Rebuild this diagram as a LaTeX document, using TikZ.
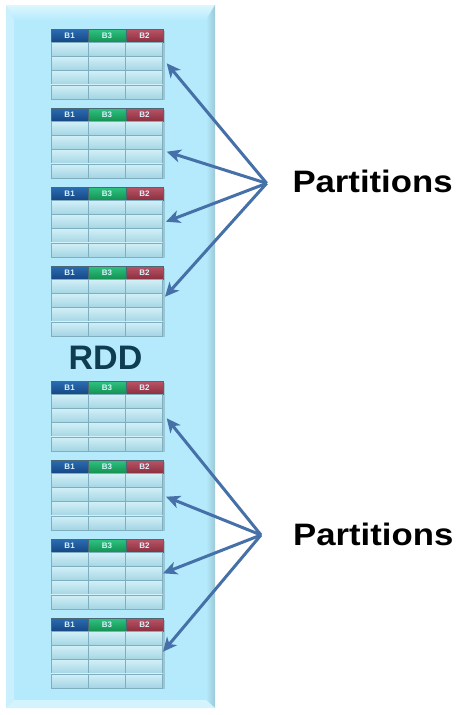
\documentclass[tikz,border=0pt]{standalone}
\usepackage{fontspec}
\setmainfont{Liberation Sans}
\usetikzlibrary{positioning,arrows.meta}

\definecolor{panelface}{HTML}{B5EAFC}
\definecolor{paneltop}{HTML}{DDF7FE}
\definecolor{panelright}{HTML}{9CC9D8}
\definecolor{cellline}{HTML}{7FAFBF}
\definecolor{celltop}{HTML}{D2F0F8}
\definecolor{cellbot}{HTML}{A4D5E3}
\definecolor{bonetop}{HTML}{2B6DB4}
\definecolor{bonebot}{HTML}{154683}
\definecolor{bthreetop}{HTML}{2EC482}
\definecolor{bthreebot}{HTML}{149050}
\definecolor{btwotop}{HTML}{BA5566}
\definecolor{btwobot}{HTML}{8A2E3E}
\definecolor{arrowblue}{HTML}{4570A8}
\definecolor{rddteal}{HTML}{0E3D52}

\begin{document}
\begin{tikzpicture}[x=1pt,y=-1pt,
	hcell/.style={ rectangle, draw=cellline!60!black, very thin, inner sep=0pt, minimum width=37.2pt, minimum height=13.4pt, text=white!85!cyan, font=\fontsize{8}{8}\selectfont\bfseries },
	cell/.style={ rectangle, draw=cellline, thin, top color=celltop, bottom color=cellbot, inner sep=0pt, minimum width=37.2pt, minimum height=14.1pt },
	arr/.style={ draw=arrowblue, line width=3pt, -{Stealth[length=14pt,width=13pt,inset=4pt]} },
	lbl/.style={ inner sep=0pt, font=\fontsize{31}{33}\selectfont\bfseries }
]
\useasboundingbox (0,0) rectangle (471,715);

% panel
\fill[panelface] (6,5) rectangle (215,708);
\shade[top color=paneltop, bottom color=panelface] (6,5) -- (215,5) -- (206,20) -- (14,20) -- cycle;
\shade[left color=panelface, right color=panelright] (206,20) -- (215,5) -- (215,708) -- (206,700) -- cycle;
\fill[panelface!70!white] (6,5) -- (14,20) -- (14,700) -- (6,708) -- cycle;
\fill[panelface!60!white] (6,708) -- (14,700) -- (206,700) -- (215,708) -- cycle;

% tables
\foreach \t/\y in {1/29,2/108,3/187,4/266,5/381,6/460,7/539,8/618} {
	\fill[black, opacity=0.15] ({53},{\y+2}) rectangle ({164.6},{\y+71.2});
	\node[hcell, top color=bonetop, bottom color=bonebot] (h\t-1) at ({69.6},{\y+6.7}) {B1};
	\node[hcell, top color=bthreetop, bottom color=bthreebot, right=0pt of h\t-1] (h\t-2) {B3};
	\node[hcell, top color=btwotop, bottom color=btwobot, right=0pt of h\t-2] (h\t-3) {B2};
	\foreach \r in {1,...,4} \foreach \c in {1,2,3}
		\node[cell] (c\t-\r-\c) at ({51+37.2*\c-18.6},{\y+13.4+14.1*\r-7.05}) {};
}

\node[lbl, text=rddteal, font=\fontsize{34}{36}\selectfont\bfseries] (rdd) at (105.5,357.5) {RDD};

% partitions
\node[lbl, anchor=base west] (part1) at (292.3,192) {\scalebox{1.12}[1]{Partitions}};
\node[lbl, anchor=base west] (part2) at (293,545) {\scalebox{1.12}[1]{Partitions}};
\coordinate (src1) at (266.7,183.3);
\coordinate (src2) at (261,535);
\coordinate (tip1) at (166.7,63.3);
\coordinate (tip2) at (166.7,151.7);
\coordinate (tip3) at (166,221.7);
\coordinate (tip4) at (165,296.7);
\coordinate (tip5) at (166.7,418.3);
\coordinate (tip6) at (166,496.7);
\coordinate (tip7) at (163,573.3);
\coordinate (tip8) at (163,651.7);
\foreach \k in {1,...,4} \draw[arr] (src1) -- (tip\k);
\foreach \k in {5,...,8} \draw[arr] (src2) -- (tip\k);

\end{tikzpicture}
\end{document}
